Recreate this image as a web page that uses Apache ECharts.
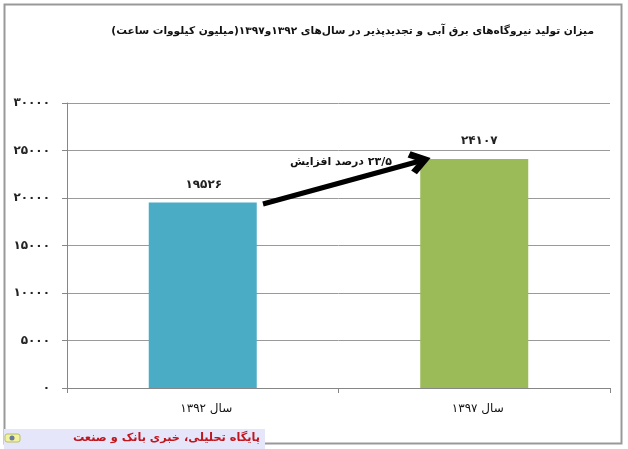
<!DOCTYPE html>
<html><head><meta charset="utf-8">
<style>html,body{margin:0;padding:0;background:#fff}#c{width:628px;height:449px}</style>
<script src="https://cdn.jsdelivr.net/npm/echarts@6/dist/echarts.min.js"></script>
</head><body><div id="c"></div>
<script>
const categories = ['سال ۱۳۹۲', 'سال ۱۳۹۷'];
const values = [19526, 24107];
const valueLabels = ['۱۹۵۲۶', '۲۴۱۰۷'];
const barColors = ['#4BACC6', '#9BBB59'];
const yMax = 30000, yStep = 5000;
const titleText = 'میزان تولید نیروگاه‌های برق آبی و تجدیدپذیر در سال‌های ۱۳۹۲و۱۳۹۷(میلیون کیلووات ساعت)';
const arrowText = '\u200f۲۳/۵ درصد افزایش\u200f';
const footerText = 'پایگاه تحلیلی، خبری بانک و صنعت';
const faDigits = n => String(n).replace(/\d/g, d => '۰۱۲۳۴۵۶۷۸۹'[d]);
const font = '"DejaVu Sans", "Noto Sans", sans-serif';
const chevron = 'path://M50,0 L100,62 L78,78 L50,42 L22,78 L0,62 Z';
const chart = echarts.init(document.getElementById('c'), null, {renderer: 'canvas'});
chart.setOption({
  animation: false,
  backgroundColor: '#fff',
  grid: {left: 67, right: 18, top: 103, bottom: 61},
  xAxis: {type: 'category', data: categories,
    axisTick: {show: true, length: 5, lineStyle: {color: '#868686'}},
    axisLine: {lineStyle: {color: '#868686', width: 1}},
    axisLabel: {color: '#111', fontFamily: font, fontSize: 12, margin: 15, padding: [0, 0, 0, 7]}},
  yAxis: {type: 'value', min: 0, max: yMax, interval: yStep,
    axisLine: {show: true, lineStyle: {color: '#868686'}},
    axisTick: {show: true, length: 5, lineStyle: {color: '#868686'}},
    splitLine: {lineStyle: {color: '#9a9a9a', width: 1}},
    axisLabel: {color: '#222', fontFamily: font, fontSize: 12, fontWeight: 'bold', margin: 17, formatter: v => faDigits(v)}},
  series: [{type: 'bar', barWidth: 108,
    data: values.map((v, i) => ({value: v, itemStyle: {color: barColors[i]},
      label: {show: true, position: 'top', distance: 12, offset: [i ? 5 : 1, 0], formatter: valueLabels[i], color: '#222', fontFamily: font, fontSize: 12, fontWeight: 'bold'}})),
    markLine: {silent: true, symbol: ['none', chevron], symbolSize: [24, 22], label: {show: false},
      lineStyle: {color: '#000', width: 5, type: 'solid'},
      itemStyle: {color: '#000'},
      emphasis: {disabled: true},
      data: [[{x: 263, y: 204}, {x: 420, y: 161}]]}
  }],
  graphic: [
    {type: 'rect', shape: {x: 4.5, y: 4.5, width: 617, height: 439}, style: {fill: 'none', stroke: '#999', lineWidth: 2}, z: 50},
    {type: 'text', x: 594, y: 31, style: {text: titleText, font: 'bold 10.6px ' + font, fill: '#111', align: 'right', verticalAlign: 'middle'}, z: 60},
    {type: 'text', x: 392, y: 162, style: {text: arrowText, font: 'bold 11px ' + font, fill: '#111', align: 'right', verticalAlign: 'middle'}, z: 60},
    {type: 'rect', shape: {x: 4, y: 429, width: 261, height: 20}, style: {fill: '#E6E6FA'}, z: 70},
    {type: 'text', x: 260, y: 438, style: {text: footerText, font: 'bold 11.3px ' + font, fill: '#C0161E', align: 'right', verticalAlign: 'middle'}, z: 71},
    {type: 'rect', shape: {x: 5, y: 434, width: 15, height: 8, r: 2}, style: {fill: '#F2F2A0', stroke: '#B8C060', lineWidth: 1}, z: 71},
    {type: 'circle', shape: {cx: 12, cy: 438, r: 2.5}, style: {fill: '#6A7A9A'}, z: 72}
  ]
});
</script></body></html>
